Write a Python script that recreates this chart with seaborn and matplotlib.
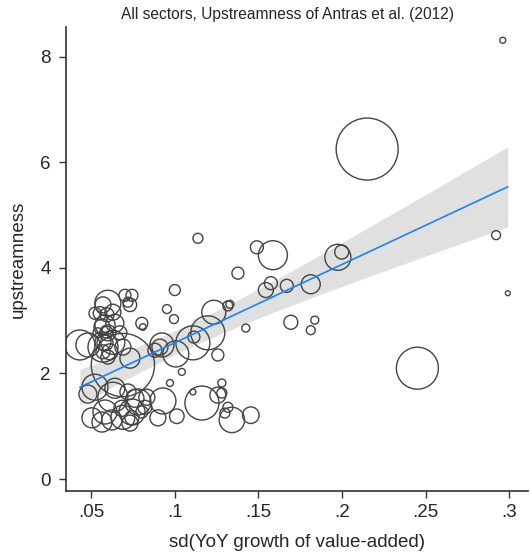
import numpy as np
import pandas as pd
import matplotlib
matplotlib.use("Agg")
import matplotlib.pyplot as plt
import seaborn as sns

# Sector-level data: volatility of value-added growth, upstreamness index,
# and sector weight (value-added) used for bubble area and the weighted fit.
sd_growth = [
    0.296, 0.299, 0.292, 0.215, 0.245, 0.1975, 0.1998, 0.1813, 0.167, 0.1587,
    0.1491, 0.1575, 0.1545, 0.1694, 0.1837, 0.1813, 0.1455, 0.1342, 0.130, 0.1318,
    0.1258, 0.1282, 0.1282, 0.1163, 0.1109, 0.1013, 0.093, 0.0972, 0.090, 0.1139,
    0.1378, 0.1001, 0.0954, 0.0996, 0.1234, 0.1318, 0.133, 0.1425, 0.1109, 0.1115,
    0.1007, 0.1258, 0.1043, 0.1198,
    0.0434, 0.0691, 0.0482, 0.0506, 0.0566, 0.0584, 0.0524, 0.0631, 0.0745, 0.0781,
    0.0763, 0.0834, 0.0721, 0.0643, 0.0804, 0.0685, 0.0822, 0.0625, 0.0691,
    0.0572, 0.0524, 0.0596, 0.0566, 0.0596, 0.0542, 0.0584, 0.0572, 0.0601, 0.0703,
    0.0745, 0.0721, 0.0733, 0.0601, 0.0554, 0.0631, 0.0584, 0.0643, 0.0601, 0.0673,
    0.0572, 0.0631, 0.0691, 0.0613, 0.0804, 0.081, 0.0912, 0.0882, 0.0924, 0.0482,
    0.0733, 0.0572, 0.0745, 0.0733,
]
upstreamness = [
    8.31, 3.52, 4.62, 6.25, 2.10, 4.20, 4.30, 3.69, 3.66, 4.24,
    4.39, 3.71, 3.58, 2.97, 3.01, 2.82, 1.21, 1.12, 1.25, 1.36,
    1.59, 1.63, 1.82, 1.44, 1.65, 1.19, 1.48, 1.82, 1.16, 4.56,
    3.90, 3.58, 3.22, 3.03, 3.16, 3.28, 3.31, 2.86, 2.58, 2.69,
    2.37, 2.35, 2.03, 2.77,
    2.54, 2.16, 1.61, 1.16, 1.08, 1.27, 1.74, 1.55, 1.16, 1.46,
    1.53, 1.55, 1.65, 1.72, 1.27, 1.34, 1.36, 1.12, 1.17,
    3.30, 3.14, 3.11, 2.88, 2.78, 2.77, 2.58, 2.41, 2.31, 3.48,
    3.48, 3.35, 3.30, 3.33, 3.14, 3.16, 2.92, 2.95, 2.77, 2.77,
    2.59, 2.59, 2.50, 2.41, 2.95, 2.88, 2.50, 2.44, 2.54, 2.54,
    2.29, 2.50, 1.27, 1.06,
]
value_added = [
    9, 6, 20, 961, 441, 169, 49, 90, 42, 210,
    42, 42, 56, 49, 16, 20, 69, 161, 25, 25,
    64, 25, 16, 289, 9, 53, 169, 12, 64, 25,
    36, 30, 20, 20, 144, 25, 16, 16, 289, 36,
    169, 36, 12, 289,
    225, 1000, 81, 100, 100, 144, 169, 225, 49, 169,
    81, 64, 64, 100, 36, 64, 49, 100, 144,
    64, 36, 49, 64, 36, 25, 64, 49, 49, 36,
    36, 25, 45, 169, 45, 64, 100, 81, 64, 49,
    64, 144, 64, 64, 36, 11, 64, 49, 144, 144,
    100, 225, 169, 64,
]

x_ticks = [0.05, 0.10, 0.15, 0.20, 0.25, 0.30]
x_ticklabels = [".05", ".1", ".15", ".2", ".25", ".3"]
y_ticks = [0, 2, 4, 6, 8]

df = pd.DataFrame({"sd": sd_growth, "up": upstreamness, "w": value_added})

# Weighted least squares fit with 95% confidence band (analytic weights)
x = df["sd"].to_numpy()
y = df["up"].to_numpy()
w = df["w"].to_numpy(dtype=float)
w = w * len(w) / w.sum()
X = np.column_stack([np.ones_like(x), x])
XtWX = X.T @ (X * w[:, None])
beta = np.linalg.solve(XtWX, X.T @ (w * y))
resid = y - X @ beta
dof = len(x) - 2
s2 = np.sum(w * resid ** 2) / dof
cov = s2 * np.linalg.inv(XtWX)
z = 1.959964
t_crit = z + (z ** 3 + z) / (4 * dof) + (5 * z ** 5 + 16 * z ** 3 + 3 * z) / (96 * dof ** 2)

grid = np.linspace(x.min(), x.max(), 200)
G = np.column_stack([np.ones_like(grid), grid])
fit = G @ beta
se = np.sqrt(np.einsum("ij,jk,ik->i", G, cov, G))
fit_df = pd.DataFrame({"sd": grid, "fit": fit, "lo": fit - t_crit * se, "hi": fit + t_crit * se})

sns.set_theme(style="ticks")
plt.rcParams["font.family"] = ["Liberation Sans", "DejaVu Sans"]

fig = plt.figure(figsize=(5.30, 5.53), dpi=100)
ax = fig.add_axes([0.1245, 0.112, 0.8715, 0.839])

ax.fill_between(fit_df["sd"], fit_df["lo"], fit_df["hi"], color="#e0e0e0", lw=0, zorder=1)

wmax = max(value_added)
px_to_pt = 72 / 100
sns.scatterplot(
    data=df, x="sd", y="up", size="w",
    sizes=(0, (2 * px_to_pt) ** 2 * wmax), size_norm=(0, wmax),
    facecolor="none", edgecolor="#444444", linewidth=1.0,
    legend=False, ax=ax, zorder=2,
)

sns.lineplot(data=fit_df, x="sd", y="fit", color="#1a84f5", lw=1.2, ax=ax, zorder=3)

ax.set_xlim(0.0351, 0.311)
ax.set_ylim(-0.227, 8.56)
ax.set_xticks(x_ticks)
ax.set_xticklabels(x_ticklabels)
ax.set_yticks(y_ticks)
ax.set_yticklabels([str(v) for v in y_ticks])
ax.tick_params(axis="both", labelsize=13.5, length=5, width=1.0, color="#333333")
ax.tick_params(axis="x", pad=4)
ax.tick_params(axis="y", pad=6)
for side in ("left", "bottom"):
    ax.spines[side].set_linewidth(1.2)
    ax.spines[side].set_color("#333333")
sns.despine(ax=ax)

ax.set_xlabel("sd(YoY growth of value-added)", fontsize=13.5, labelpad=10)
ax.set_ylabel("upstreamness", fontsize=13.5, labelpad=10)
ax.set_title("All sectors, Upstreamness of Antras et al. (2012)", fontsize=11.2, pad=6, x=0.48)

fig.savefig("out.png", dpi=100)
